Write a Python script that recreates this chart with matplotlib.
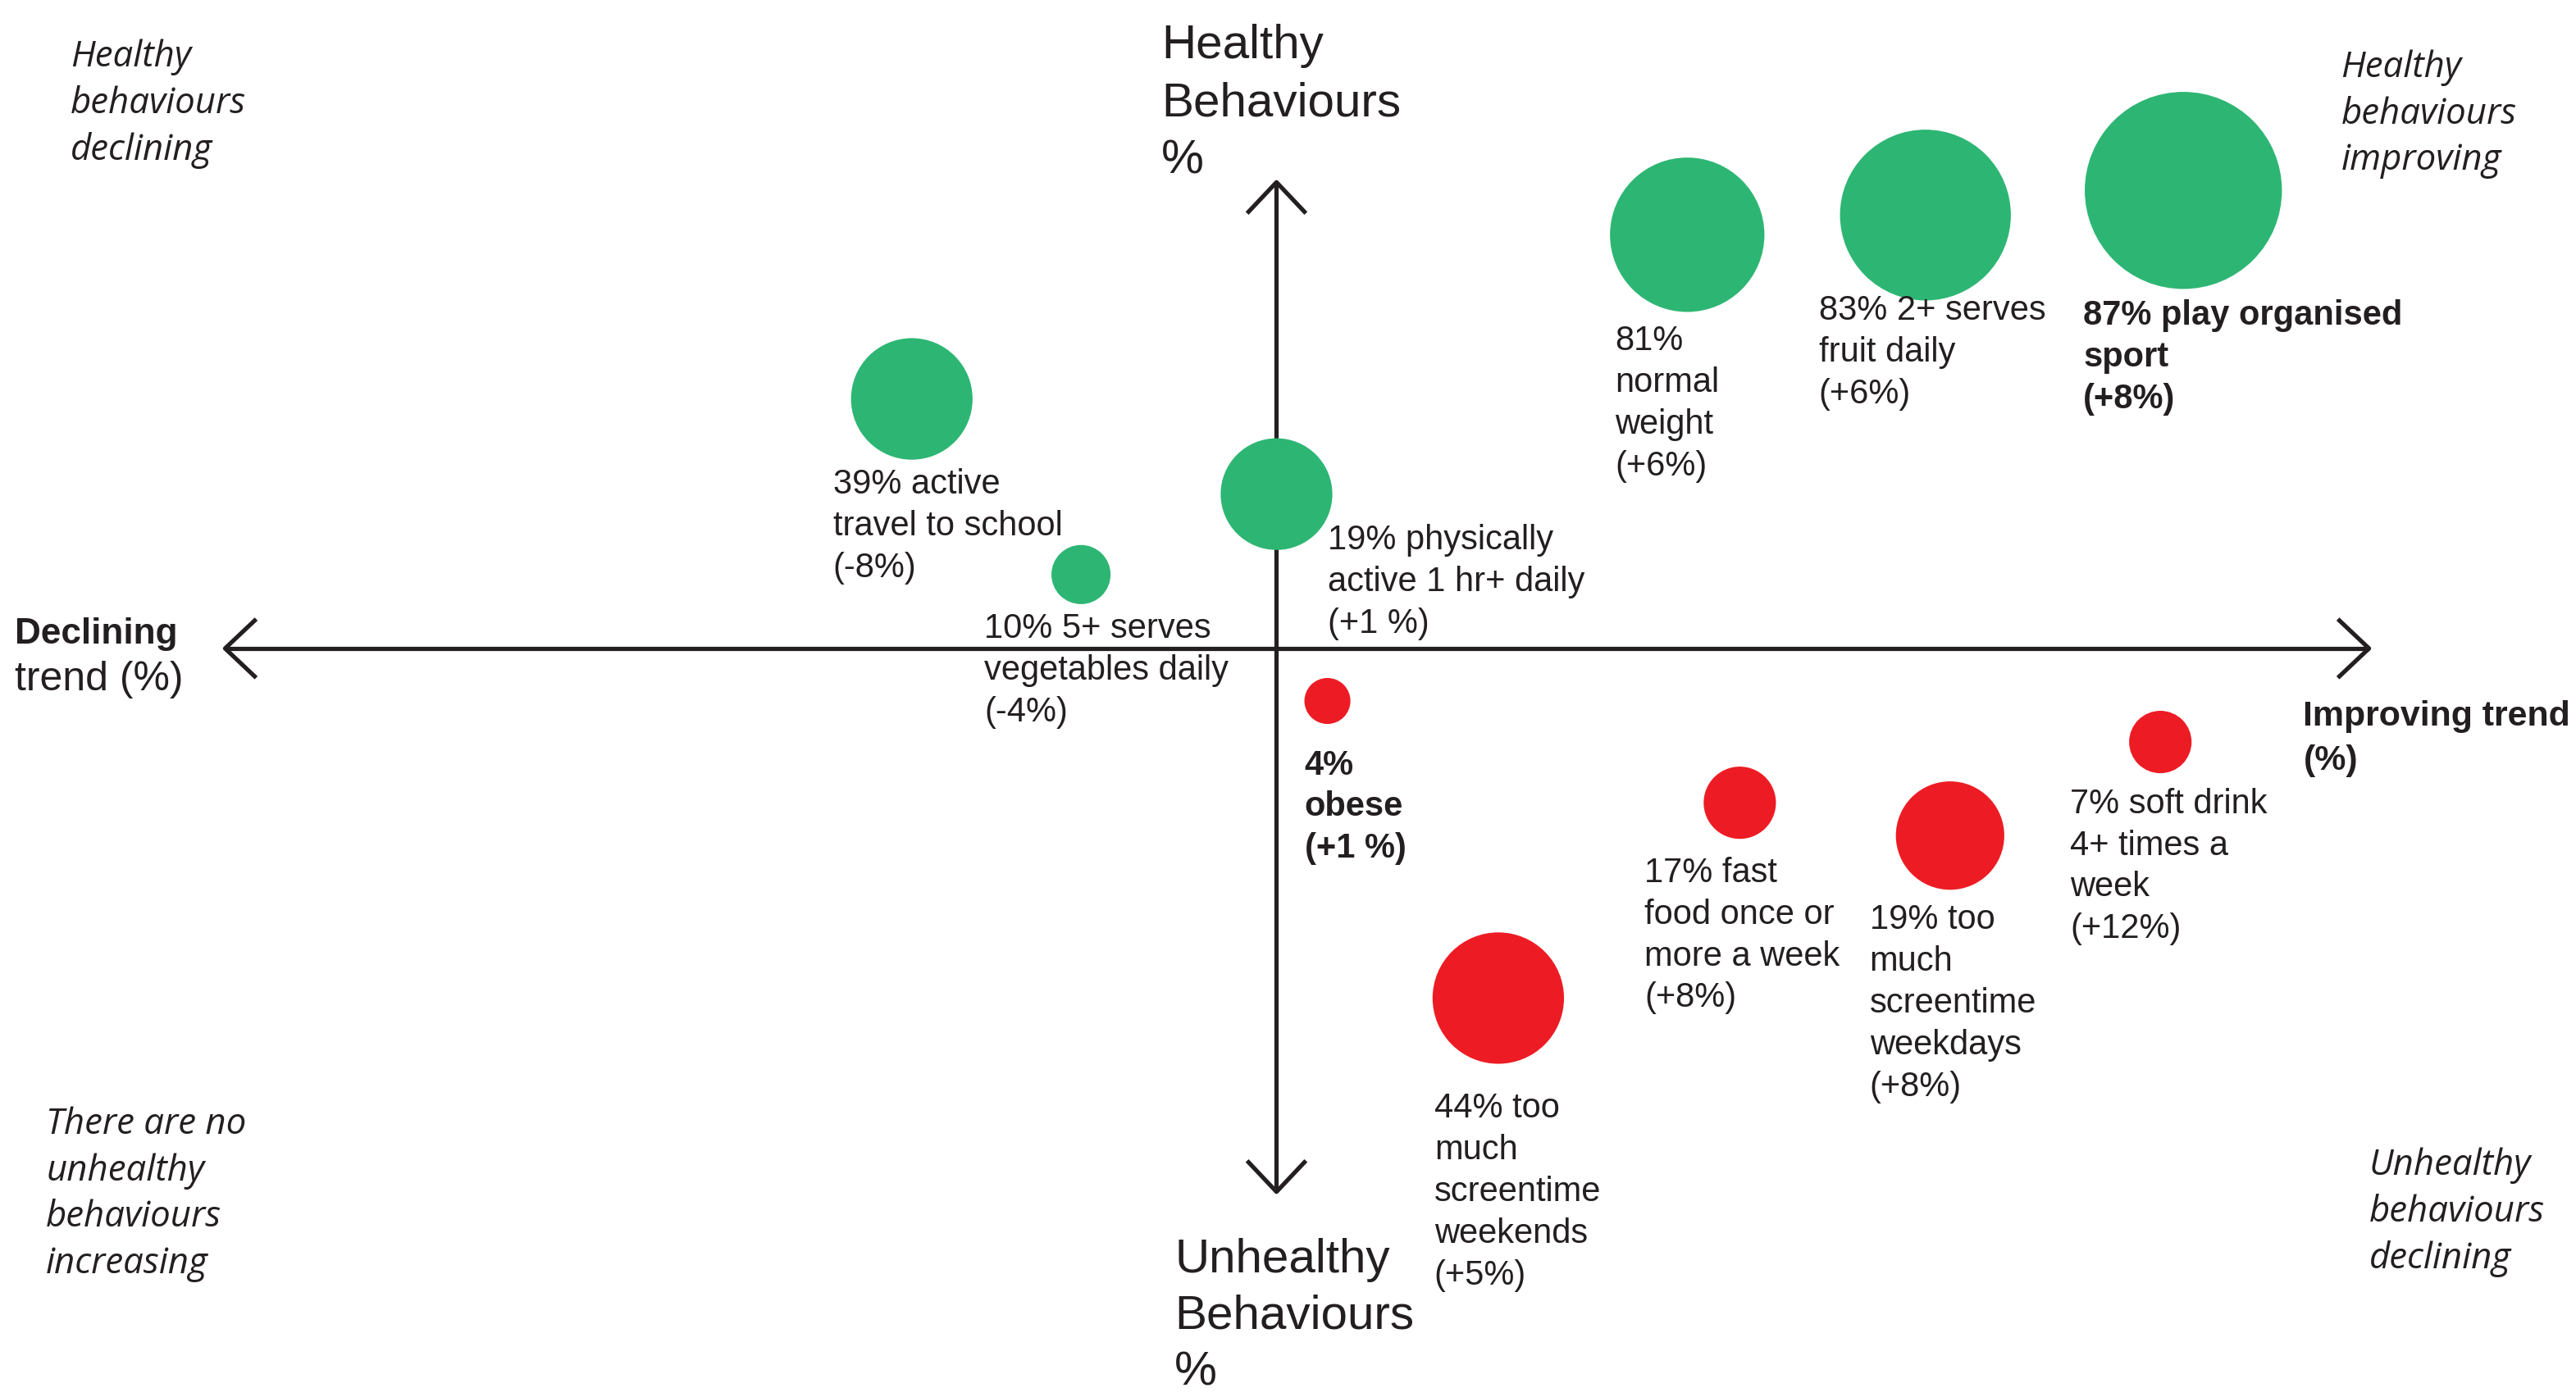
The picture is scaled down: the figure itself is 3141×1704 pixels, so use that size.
import matplotlib
matplotlib.use("Agg")
import matplotlib.pyplot as plt

# ---------------- data ----------------
behaviours = [
    "active travel to school", "5+ serves vegetables daily", "physically active 1 hr+ daily",
    "normal weight", "2+ serves fruit daily", "play organised sport",
    "obese", "fast food once or more a week", "too much screentime weekdays",
    "soft drink 4+ times a week", "too much screentime weekends",
]
prevalence = [39, 10, 19, 81, 83, 87, 4, 17, 19, 7, 44]
trend_text = ["-8%", "-4%", "+1 %", "+6%", "+6%", "+8%", "+1 %", "+8%", "+8%", "+12%", "+5%"]
kind = ["healthy"] * 6 + ["unhealthy"] * 5
label_text = [
    "39% active\ntravel to school\n(-8%)",
    "10% 5+ serves\nvegetables daily\n(-4%)",
    "19% physically\nactive 1 hr+ daily\n(+1 %)",
    "81%\nnormal\nweight\n(+6%)",
    "83% 2+ serves\nfruit daily\n(+6%)",
    "87% play organised\nsport\n(+8%)",
    "4%\nobese\n(+1 %)",
    "17% fast\nfood once or\nmore a week\n(+8%)",
    "19% too\nmuch\nscreentime\nweekdays\n(+8%)",
    "7% soft drink\n4+ times a\nweek\n(+12%)",
    "44% too\nmuch\nscreentime\nweekends\n(+5%)",
]
label_bold = [False, False, False, False, False, True, True, False, False, False, False]
# bubble placement on the trend (x) / behaviour (y) plane, as drawn
trend_pos = [-22.2, -11.9, 0.0, 25.0, 39.5, 55.2, 3.1, 28.2, 41.0, 53.8, 13.5]
level_pos = [15.2, 4.5, 9.4, 25.2, 26.4, 27.9, -3.2, -9.4, -11.4, -5.7, -21.3]
bubble_radius = [3.7, 1.8, 3.4, 4.7, 5.2, 6.0, 1.4, 2.2, 3.3, 1.9, 4.0]

# ---------------- layout ----------------
# label anchor: left edge, baseline of the last line
label_x = [-27.0, -17.8, 3.1, 20.6, 33.0, 49.1, 1.7, 22.4, 36.1, 48.3, 9.6]
label_y = [4.35, -4.45, 0.95, 10.55, 14.95, 14.65, -12.75, -21.85, -27.25, -17.65, -38.75]

XMIN, XMAX = -77.7, 79.1
YMIN, YMAX = -45.6, 39.5
W_PX, H_PX, DPI = 3141, 1704, 300

GREEN = "#2DB673"
RED = "#ED1C24"
INK = "#231F20"
colors = {"healthy": GREEN, "unhealthy": RED}

SANS = ["Liberation Sans", "DejaVu Sans"]
ITAL = ["Open Sans", "Noto Sans", "DejaVu Sans"]

fig = plt.figure(figsize=(W_PX / DPI, H_PX / DPI), dpi=DPI)
ax = fig.add_axes([0, 0, 1, 1])
ax.set_xlim(XMIN, XMAX)
ax.set_ylim(YMIN, YMAX)
ax.axis("off")

# points per data unit (isotropic)
pts_per_unit = (W_PX / DPI * 72) / (XMAX - XMIN)

# ---------------- axes arrows ----------------
lw = 1.25
ax.plot([-64.0, 66.5], [0, 0], color=INK, lw=lw, solid_capstyle="butt", zorder=1)
ax.plot([0, 0], [-33.1, 28.4], color=INK, lw=lw, solid_capstyle="butt", zorder=1)
hl, hw = 1.8, 1.7
ax.plot([-64.0 + hl, -64.0, -64.0 + hl], [hw, 0, -hw], color=INK, lw=lw, zorder=1)
ax.plot([66.5 - hl, 66.5, 66.5 - hl], [hw, 0, -hw], color=INK, lw=lw, zorder=1)
ax.plot([-hw, 0, hw], [28.4 - hl, 28.4, 28.4 - hl], color=INK, lw=lw, zorder=1)
ax.plot([-hw, 0, hw], [-33.1 + hl, -33.1, -33.1 + hl], color=INK, lw=lw, zorder=1)

# ---------------- bubbles ----------------
sizes = [(2 * r * pts_per_unit) ** 2 for r in bubble_radius]
ax.scatter(trend_pos, level_pos, s=sizes, c=[colors[k] for k in kind],
           linewidths=0, zorder=2)

for txt, x, y, b in zip(label_text, label_x, label_y, label_bold):
    ax.text(x, y, txt, ha="left", va="baseline", fontsize=10, family=SANS,
            fontweight="bold" if b else "normal", color=INK, linespacing=1.35, zorder=3)

# ---------------- axis titles ----------------
ax.text(-7.0, 28.95, "Healthy\nBehaviours\n%", ha="left", va="baseline", fontsize=14,
        family=SANS, color=INK, linespacing=1.38)
ax.text(-6.2, -44.9, "Unhealthy\nBehaviours\n%", ha="left", va="baseline", fontsize=14,
        family=SANS, color=INK, linespacing=1.36)
ax.text(-76.8, 0.3, "Declining", ha="left", va="baseline", fontsize=10.6, family=SANS,
        fontweight="bold", color=INK)
ax.text(-76.8, -2.55, "trend (%)", ha="left", va="baseline", fontsize=12, family=SANS,
        color=INK)
ax.text(62.5, -7.4, "Improving trend\n(%)", ha="left", va="baseline", fontsize=10.3,
        family=SANS, fontweight="bold", color=INK, linespacing=1.45)

# ---------------- quadrant notes (anchor = last line baseline) ----------------
quad = [
    (-73.4, 29.75, "Healthy\nbehaviours\ndeclining"),
    (64.8, 29.15, "Healthy\nbehaviours\nimproving"),
    (-74.9, -38.05, "There are no\nunhealthy\nbehaviours\nincreasing"),
    (66.5, -37.75, "Unhealthy\nbehaviours\ndeclining"),
]
for x, y, t in quad:
    ax.text(x, y, t, ha="left", va="baseline", fontsize=10.5, family=ITAL,
            style="italic", color=INK, linespacing=1.36)

fig.savefig("out.png", dpi=DPI)
